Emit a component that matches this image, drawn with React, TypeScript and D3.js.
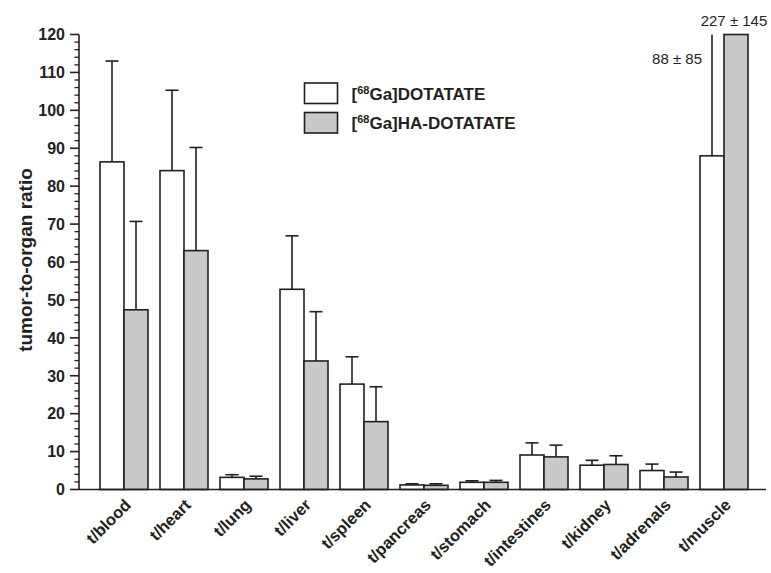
import React from "react"
import * as d3 from "d3"

// values (tumor-to-organ ratio, mean and +SD)
const categories = ["t/blood", "t/heart", "t/lung", "t/liver", "t/spleen", "t/pancreas", "t/stomach", "t/intestines", "t/kidney", "t/adrenals", "t/muscle"]
const dotatate = [86.4, 84.1, 3.2, 52.8, 27.8, 1.2, 1.9, 9.1, 6.4, 5.0, 88]
const dotatateErr = [26.6, 21.2, 0.7, 14.1, 7.2, 0.3, 0.4, 3.2, 1.3, 1.7, 85]
const haDotatate = [47.4, 63.0, 2.8, 33.9, 17.9, 1.1, 1.9, 8.6, 6.6, 3.3, 227]
const haDotatateErr = [23.3, 27.2, 0.7, 13.0, 9.2, 0.4, 0.5, 3.1, 2.3, 1.3, 145]
const yTicks = [0, 10, 20, 30, 40, 50, 60, 70, 80, 90, 100, 110, 120]
const seriesNames = ["DOTATATE", "HA-DOTATATE"]

const W = 771, H = 573
const ink = "#231f20"
const grey = "#c8c9cb"
const font = "'Liberation Sans', Arial, Helvetica, sans-serif"

export default function App() {
  const yMax = 120
  const y = d3.scaleLinear().domain([0, yMax]).range([489.5, 34.5])
  const x = d3.scaleBand().domain(categories).range([94, 754]).paddingInner(0.2).paddingOuter(0.1)
  const sub = d3.scaleBand().domain(["a", "b"]).range([0, x.bandwidth()])
  const minor = d3.range(0, yMax + 0.1, 2).filter(v => v % 10 !== 0)

  const series = [
    { key: "a", vals: dotatate, errs: dotatateErr, fill: "#fff" },
    { key: "b", vals: haDotatate, errs: haDotatateErr, fill: grey },
  ]
  const axisX = 79

  return (
    <svg width={W} height={H} style={{ position: "absolute", left: 0, top: 0, background: "#fff" }} fontFamily={font}>
      {/* bars + error bars */}
      {series.map(s =>
        categories.map((c, i) => {
          const x0 = x(c)! + sub(s.key)!
          const bw = sub.bandwidth()
          const v = Math.min(s.vals[i], yMax)
          const top = s.vals[i] + s.errs[i]
          const cx = x0 + bw / 2
          const clipped = top > yMax
          return (
            <g key={s.key + c}>
              {s.vals[i] < yMax && (
                <line x1={cx} x2={cx} y1={y(v)} y2={y(Math.min(top, yMax))} stroke={ink} strokeWidth={1.6} />
              )}
              {!clipped && (
                <line x1={cx - 6.5} x2={cx + 6.5} y1={y(top)} y2={y(top)} stroke={ink} strokeWidth={1.6} />
              )}
              <rect x={x0} y={y(v)} width={bw} height={y(0) - y(v)} fill={s.fill} stroke={ink} strokeWidth={1.6} />
            </g>
          )
        })
      )}

      {/* x axis line */}
      <line x1={axisX} x2={766} y1={y(0)} y2={y(0)} stroke={ink} strokeWidth={1.6} />

      {/* y axis */}
      <line x1={axisX} x2={axisX} y1={y(yMax)} y2={y(0)} stroke={ink} strokeWidth={1.6} />
      {yTicks.map(t => (
        <g key={t}>
          <line x1={axisX - 9} x2={axisX} y1={y(t)} y2={y(t)} stroke={ink} strokeWidth={1.6} />
          <text x={65} y={y(t)} dy="0.36em" textAnchor="end" fontSize={16} fontWeight="bold" fill={ink}>{t}</text>
        </g>
      ))}
      {minor.map(t => (
        <line key={t} x1={axisX - 4.5} x2={axisX} y1={y(t)} y2={y(t)} stroke={ink} strokeWidth={1.3} />
      ))}
      <text transform={`translate(32,260) rotate(-90)`} textAnchor="middle" fontSize={19} fontWeight="bold" fill={ink}>tumor-to-organ ratio</text>

      {/* category labels */}
      {categories.map(c => (
        <text key={c} transform={`translate(${x(c)! + x.bandwidth() / 2 + 8},506) rotate(-45)`} textAnchor="end" fontSize={16.5} fontWeight="bold" fill={ink}>{c}</text>
      ))}

      {/* off-scale annotations for muscle */}
      <text x={734} y={26} textAnchor="middle" fontSize={15} fill={ink}>{`${haDotatate[10]} ± ${haDotatateErr[10]}`}</text>
      <text x={702} y={64} textAnchor="end" fontSize={15} fill={ink}>{`${dotatate[10]} ± ${dotatateErr[10]}`}</text>

      {/* legend */}
      {seriesNames.map((n, i) => (
        <g key={n} transform={`translate(304.5,${83 + i * 29.5})`}>
          <rect width={33} height={20.5} fill={i === 0 ? "#fff" : grey} stroke={ink} strokeWidth={1.6} />
          <text x={47} y={16.5} fontSize={17} fontWeight="bold" fill={ink}>
            [<tspan fontSize={11} dy={-6}>68</tspan><tspan dy={6}>Ga]{n}</tspan>
          </text>
        </g>
      ))}
    </svg>
  )
}
